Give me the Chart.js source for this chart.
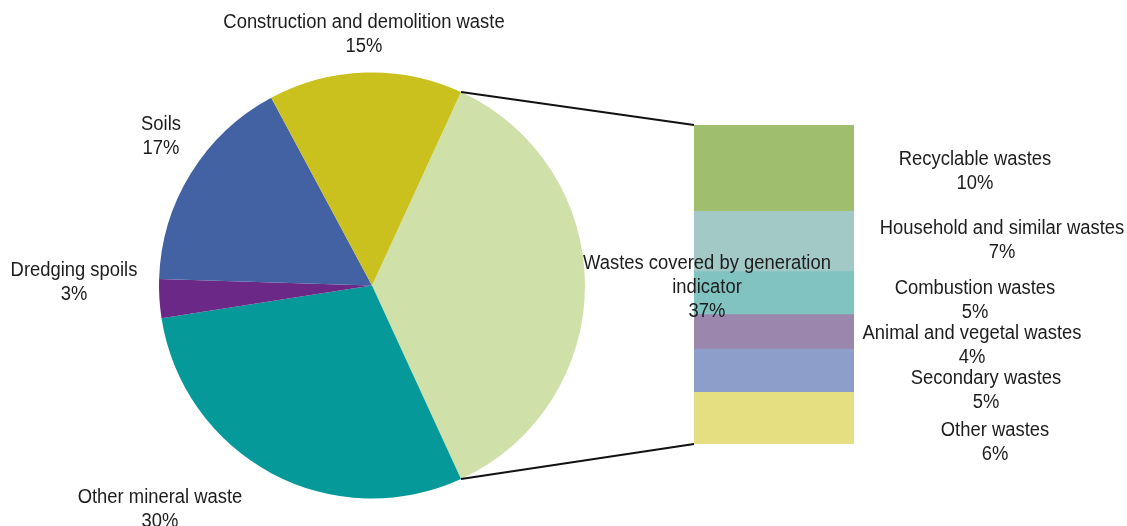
<!DOCTYPE html>
<html>
<head>
<meta charset="utf-8">
<script src="https://cdn.jsdelivr.net/npm/chart.js@4.4.1/dist/chart.umd.min.js"></script>
<style>
  html, body { margin: 0; padding: 0; background: #ffffff; }
  #wrap { position: relative; width: 1127px; height: 526px; overflow: hidden; }
  #wrap canvas { position: absolute; left: 0; top: 0; }
</style>
</head>
<body>
<div id="wrap">
  <canvas id="pie" width="1127" height="526"></canvas>
  <canvas id="bar" width="1127" height="526"></canvas>
</div>
<script>
// Main pie: share of total waste generation by category (%)
const pieCategories = [
  'Wastes covered by generation indicator',
  'Other mineral waste',
  'Dredging spoils',
  'Soils',
  'Construction and demolition waste'
];
const pieValues = [37, 30, 3, 17, 15];
const pieColors = ['#cfe0a9', '#05999a', '#6b2887', '#4362a4', '#cbc11e'];

// Breakdown of the first pie slice, listed from the top of the bar down (%)
const barCategories = [
  'Recyclable wastes',
  'Household and similar wastes',
  'Combustion wastes',
  'Animal and vegetal wastes',
  'Secondary wastes',
  'Other wastes'
];
const barValues = [10, 7, 5, 4, 5, 6];
const barColors = ['#9fbf6f', '#a3c9c6', '#80c3c1', '#9b86ae', '#8e9ecb', '#e6df82'];

// Label anchors (centre of first text line) and wrap widths
const pieLabelLayout = [
  { x: 707, y: 263, wrap: 260 },
  { x: 160, y: 497, wrap: 9999 },
  { x: 74,  y: 270, wrap: 9999 },
  { x: 161, y: 124, wrap: 9999 },
  { x: 364, y: 22,  wrap: 9999 }
];
const barLabelLayout = [
  { x: 975, y: 159 },
  { x: 1002, y: 228 },
  { x: 975, y: 288 },
  { x: 972, y: 333 },
  { x: 986, y: 378 },
  { x: 995, y: 430 }
];

const FONT_SIZE = 20;
const FONT = FONT_SIZE + 'px "Liberation Sans", Arial, sans-serif';
const X_SCALE = 0.92;
const LINE_H = 24;
const TEXT_COLOR = '#1c1c1c';

const pieTotal = pieValues.reduce((a, b) => a + b, 0);
const pieRotation = 90 - (pieValues[0] / pieTotal) * 180;

const pieChart = new Chart(document.getElementById('pie'), {
  type: 'pie',
  data: {
    labels: pieCategories,
    datasets: [{
      data: pieValues,
      backgroundColor: pieColors,
      borderWidth: 0
    }]
  },
  options: {
    responsive: false,
    animation: false,
    devicePixelRatio: 1,
    rotation: pieRotation,
    layout: { padding: { left: 159, right: 542, top: 72, bottom: 27 } },
    plugins: { legend: { display: false }, tooltip: { enabled: false } }
  }
});

// Stacked column: datasets go bottom-up, so reverse the top-down lists
const stackOrder = barCategories.map((_, i) => i).reverse();

function wrapLines(ctx, text, maxW) {
  const words = text.split(' ');
  const lines = [];
  let cur = '';
  words.forEach(w => {
    const test = cur ? cur + ' ' + w : w;
    if (cur && ctx.measureText(test).width * X_SCALE > maxW) {
      lines.push(cur);
      cur = w;
    } else {
      cur = test;
    }
  });
  if (cur) lines.push(cur);
  return lines;
}

function drawText(ctx, text, x, y) {
  ctx.save();
  ctx.translate(x, y);
  ctx.scale(X_SCALE, 1);
  ctx.fillText(text, 0, 0);
  ctx.restore();
}

function drawBlock(ctx, lines, x, y) {
  lines.forEach((ln, i) => drawText(ctx, ln, x, y + i * LINE_H));
}

const overlay = {
  id: 'overlay',
  afterDraw(chart) {
    const ctx = chart.ctx;
    const arc = pieChart.getDatasetMeta(0).data[0];
    const metas = chart.getSortedVisibleDatasetMetas();
    const topBar = metas[metas.length - 1].data[0];
    const bottomBar = metas[0].data[0];
    const left = topBar.x - topBar.width / 2;

    // connector lines from the exploded slice to the column
    ctx.save();
    ctx.strokeStyle = '#111111';
    ctx.lineWidth = 1.8;
    ctx.beginPath();
    ctx.moveTo(arc.x + arc.outerRadius * Math.cos(arc.startAngle),
               arc.y + arc.outerRadius * Math.sin(arc.startAngle));
    ctx.lineTo(left, topBar.y);
    ctx.moveTo(arc.x + arc.outerRadius * Math.cos(arc.endAngle),
               arc.y + arc.outerRadius * Math.sin(arc.endAngle));
    ctx.lineTo(left, bottomBar.base);
    ctx.stroke();
    ctx.restore();

    // data labels
    ctx.save();
    ctx.font = FONT;
    ctx.fillStyle = TEXT_COLOR;
    ctx.textAlign = 'center';
    ctx.textBaseline = 'middle';
    pieCategories.forEach((name, i) => {
      const p = pieLabelLayout[i];
      const lines = wrapLines(ctx, name, p.wrap);
      lines.push(pieValues[i] + '%');
      drawBlock(ctx, lines, p.x, p.y);
    });
    barCategories.forEach((name, i) => {
      const p = barLabelLayout[i];
      drawBlock(ctx, [name, barValues[i] + '%'], p.x, p.y);
    });
    ctx.restore();
  }
};

new Chart(document.getElementById('bar'), {
  type: 'bar',
  data: {
    labels: [''],
    datasets: stackOrder.map(i => ({
      label: barCategories[i],
      data: [barValues[i]],
      backgroundColor: barColors[i],
      borderWidth: 0,
      barPercentage: 1,
      categoryPercentage: 1
    }))
  },
  options: {
    responsive: false,
    animation: false,
    devicePixelRatio: 1,
    layout: { padding: { left: 694, right: 273, top: 125, bottom: 82 } },
    scales: {
      x: { stacked: true, display: false },
      y: { stacked: true, display: false, min: 0, max: barValues.reduce((a, b) => a + b, 0) }
    },
    plugins: { legend: { display: false }, tooltip: { enabled: false } }
  },
  plugins: [overlay]
});
</script>
</body>
</html>
